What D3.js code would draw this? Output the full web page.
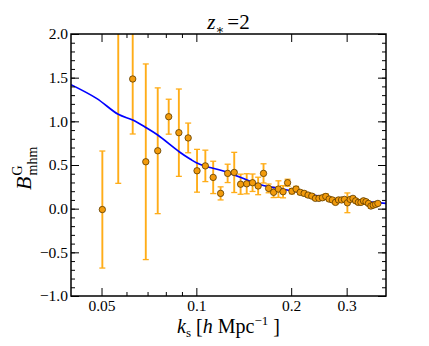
<!DOCTYPE html>
<html><head><meta charset="utf-8">
<script src="https://cdn.jsdelivr.net/npm/d3@7"></script>
<style>body{margin:0;background:#fff;} svg{display:block;} text{font-family:"Liberation Serif","DejaVu Serif",serif;}</style>
</head><body>
<svg id="c" width="429" height="346"></svg>
<script>
// measured k values (h/Mpc)
const kVals = [0.0503,0.0565,0.0628,0.0691,0.0754,0.0817,0.0880,0.0942,0.1005,0.1068,0.1131,0.1194,0.1257,0.1319,0.1382,0.1445,0.1508,0.1571,0.1634,0.1696,0.1759,0.1822,0.1885,0.1948,0.2011,0.2073,0.2136,0.2199,0.2262,0.2325,0.2388,0.2450,0.2513,0.2576,0.2639,0.2702,0.2765,0.2827,0.2890,0.2953,0.3016,0.3079,0.3142,0.3204,0.3267,0.3330,0.3393,0.3456,0.3519,0.3581,0.3644,0.3707,0.3770];
const bVals = [-0.01,2.35,1.485,0.537,0.663,1.053,0.87,0.81,0.434,0.49,0.358,0.175,0.404,0.415,0.28,0.285,0.297,0.26,0.404,0.232,0.187,0.224,0.194,0.297,0.20,0.225,0.187,0.175,0.156,0.144,0.118,0.118,0.125,0.14,0.11,0.10,0.072,0.10,0.10,0.106,0.067,0.106,0.118,0.09,0.072,0.072,0.09,0.08,0.06,0.03,0.04,0.049,0.06];
const bErr = [0.67,2.06,0.63,1.12,0.72,0.20,0.50,0.17,0.245,0.18,0.185,0.075,0.105,0.23,0.115,0.115,0.10,0.10,0.11,0.05,0.06,0.095,0.07,0.04,0.03,0.03,0.025,0.025,0.025,0.025,0.02,0.02,0.025,0.03,0.02,0.02,0.02,0.025,0.02,0.02,0.113,0.02,0.02,0.02,0.02,0.02,0.02,0.02,0.02,0.025,0.02,0.02,0.02];
// model curve
const curveK = [0.04,0.0482,0.0565,0.0628,0.0691,0.0754,0.0882,0.0958,0.1,0.1069,0.1195,0.1266,0.1391,0.152,0.1643,0.1767,0.2,0.24,0.2786,0.32,0.4];
const curveB = [1.42,1.263,1.08,1.015,0.93,0.843,0.652,0.565,0.525,0.485,0.44,0.41,0.354,0.297,0.262,0.24,0.205,0.15,0.11,0.09,0.06];
// ticks
const xMajor = [0.05,0.1,0.2,0.3];
const xMajorLabels = ["0.05","0.1","0.2","0.3"];
const xMinor = [0.06,0.07,0.08,0.09];
const yMajor = [-1.0,-0.5,0.0,0.5,1.0,1.5,2.0];
const yMinor = d3.range(-10,21).map(i=>i/10);

const svg = d3.select("#c");
const L=71,R=386,T=34,B=296;
const x = d3.scaleLog().domain([0.04,0.4]).range([L,R]);
const y = d3.scaleLinear().domain([-1,2]).range([B,T]);

svg.append("clipPath").attr("id","clip").append("rect").attr("x",L).attr("y",T).attr("width",R-L).attr("height",B-T);
const g = svg.append("g").attr("clip-path","url(#clip)");

const pts = kVals.map((k,i)=>({k,b:bVals[i],e:bErr[i]}));
const ecol="#FFA500";
const eb = g.append("g").attr("stroke",ecol).attr("stroke-width",1.9).attr("opacity",0.9);
pts.forEach(p=>{
  const xx=x(p.k), y1=y(p.b-p.e), y2=y(p.b+p.e);
  eb.append("line").attr("x1",xx).attr("x2",xx).attr("y1",y1).attr("y2",y2);
  eb.append("line").attr("x1",xx-3).attr("x2",xx+3).attr("y1",y1).attr("y2",y1).attr("stroke-width",1.3);
  eb.append("line").attr("x1",xx-3).attr("x2",xx+3).attr("y1",y2).attr("y2",y2).attr("stroke-width",1.3);
});
const line = d3.line().x((d,i)=>x(curveK[i])).y((d,i)=>y(curveB[i])).curve(d3.curveCatmullRom);
g.append("path").attr("d",line(curveK)).attr("fill","none").attr("stroke","#0000ff").attr("stroke-width",1.7);
g.append("g").selectAll("circle").data(pts).join("circle")
  .attr("cx",d=>x(d.k)).attr("cy",d=>y(d.b)).attr("r",3.2)
  .attr("fill","#F29B0C").attr("stroke","#5a3a00").attr("stroke-width",0.8);

// axes
function style(sel){sel.select(".domain").remove();sel.attr("font-family",null);sel.selectAll("line").attr("stroke","#000").attr("stroke-width",1);sel.selectAll("text").attr("font-size",15.5).attr("fill","#000");}
svg.append("g").attr("transform",`translate(0,${B})`).call(d3.axisBottom(x).tickValues(xMajor).tickFormat((d,i)=>xMajorLabels[i]).tickSize(-8).tickPadding(4)).call(style);
svg.append("g").attr("transform",`translate(0,${B})`).call(d3.axisBottom(x).tickValues(xMinor).tickFormat("").tickSize(-4)).call(style);
svg.append("g").attr("transform",`translate(0,${T})`).call(d3.axisTop(x).tickValues(xMajor).tickFormat("").tickSize(-8)).call(style);
svg.append("g").attr("transform",`translate(0,${T})`).call(d3.axisTop(x).tickValues(xMinor).tickFormat("").tickSize(-4)).call(style);
svg.append("g").attr("transform",`translate(${L},0)`).call(d3.axisLeft(y).tickValues(yMajor).tickFormat(d=>d3.format(".1f")(d).replace("-","\u2212")).tickSize(-8).tickPadding(3)).call(style);
svg.append("g").attr("transform",`translate(${L},0)`).call(d3.axisLeft(y).tickValues(yMinor).tickFormat("").tickSize(-4)).call(style);
svg.append("g").attr("transform",`translate(${R},0)`).call(d3.axisRight(y).tickValues(yMajor).tickFormat("").tickSize(-8)).call(style);
svg.append("g").attr("transform",`translate(${R},0)`).call(d3.axisRight(y).tickValues(yMinor).tickFormat("").tickSize(-4)).call(style);
svg.append("rect").attr("x",L).attr("y",T).attr("width",R-L).attr("height",B-T).attr("fill","none").attr("stroke","#000").attr("stroke-width",1.5);

// title
const t = svg.append("text").attr("x",(L+R)/2).attr("y",29).attr("text-anchor","middle").attr("font-size",21);
t.append("tspan").attr("font-style","italic").text("z");
t.append("tspan").attr("font-size",13).attr("dy",5).text("\u2217");
t.append("tspan").attr("dy",-5).attr("dx",3).text("=2");

// x label
const xl = svg.append("text").attr("x",(L+R)/2).attr("y",333).attr("text-anchor","middle").attr("font-size",20);
xl.append("tspan").attr("font-style","italic").text("k");
xl.append("tspan").attr("font-size",13).attr("dy",4).text("s");
xl.append("tspan").attr("dy",-4).text(" [");
xl.append("tspan").attr("font-style","italic").text("h");
xl.append("tspan").text(" Mpc");
xl.append("tspan").attr("font-size",13).attr("dy",-8).text("\u22121");
xl.append("tspan").attr("dy",8).text(" ]");

// y label
const yl = svg.append("text").attr("transform","translate(31,190) rotate(-90)").attr("font-size",22);
yl.append("tspan").attr("font-style","italic").text("B");
yl.append("tspan").attr("font-size",14).attr("dy",-9).attr("dx",1).text("G");
yl.append("tspan").attr("font-size",14).attr("dy",15).attr("dx",-10).text("mhm");
</script>
</body></html>
